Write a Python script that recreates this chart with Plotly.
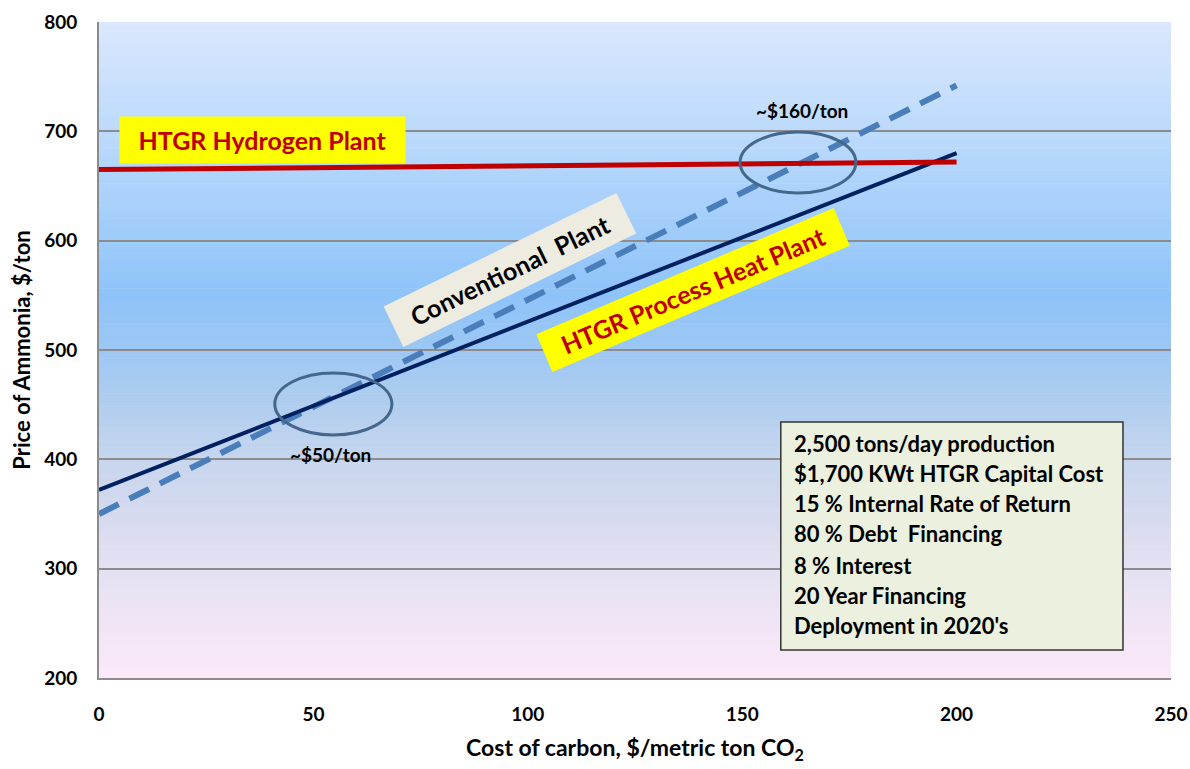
import plotly.graph_objects as go

# Cost of carbon ($/metric ton CO2) and ammonia price ($/ton) for each plant type
carbon_cost = [0, 200]
hydrogen_plant = [665, 672]
process_heat_plant = [372, 680]
conventional_plant = [350, 742]

x_ticks = [0, 50, 100, 150, 200, 250]
y_ticks = [200, 300, 400, 500, 600, 700, 800]

assumptions = [
    "2,500 tons/day production",
    "$1,700 KWt HTGR Capital Cost",
    "15 % Internal Rate of Return",
    "80 % Debt  Financing",
    "8 % Interest",
    "20 Year Financing",
    "Deployment in 2020's",
]

FONT = "Lato"

fig = go.Figure()

fig.add_trace(go.Scatter(
    x=carbon_cost, y=conventional_plant, mode="lines",
    line=dict(color="#4A7EBB", width=6, dash="22px,12px"),
    name="Conventional Plant", showlegend=False, hoverinfo="skip"))
fig.add_trace(go.Scatter(
    x=carbon_cost, y=process_heat_plant, mode="lines",
    line=dict(color="#002060", width=4),
    name="HTGR Process Heat Plant", showlegend=False, hoverinfo="skip"))
fig.add_trace(go.Scatter(
    x=carbon_cost, y=hydrogen_plant, mode="lines",
    line=dict(color="#C00000", width=5),
    name="HTGR Hydrogen Plant", showlegend=False, hoverinfo="skip"))

# vertical background gradient built from thin horizontal bands
stops = [
    (200, (251, 233, 248)),
    (250, (240, 229, 246)),
    (300, (228, 225, 242)),
    (350, (214, 218, 239)),
    (400, (198, 214, 238)),
    (450, (176, 205, 238)),
    (500, (157, 199, 244)),
    (550, (142, 195, 249)),
    (600, (158, 203, 250)),
    (700, (188, 218, 252)),
    (800, (218, 232, 252)),
]


def grad_color(v):
    for (v0, c0), (v1, c1) in zip(stops[:-1], stops[1:]):
        if v0 <= v <= v1:
            t = (v - v0) / (v1 - v0)
            return "rgb(%d,%d,%d)" % tuple(round(a + (b - a) * t) for a, b in zip(c0, c1))
    return "rgb(%d,%d,%d)" % stops[-1][1]


shapes = []
n_bands = 150
step = 600 / n_bands
for i in range(n_bands):
    lo = 200 + i * step
    shapes.append(dict(
        type="rect", xref="x", yref="y", x0=0, x1=250, y0=lo, y1=lo + step + 0.5,
        fillcolor=grad_color(lo + step / 2), line=dict(width=0), layer="below"))

# ellipses marking the break-even points
for x0, x1, y0, y1 in [(41.0, 68.3, 422.3, 479.0), (149.5, 176.5, 643.6, 699.4)]:
    shapes.append(dict(type="circle", xref="x", yref="y", x0=x0, x1=x1, y0=y0, y1=y1,
                       line=dict(color="#44678C", width=3), layer="above"))

# assumptions box
shapes.append(dict(type="rect", xref="x", yref="y", x0=159.0, x1=238.8, y0=225.6, y1=434.2,
                   fillcolor="#EBF1DE", line=dict(color="#333333", width=1.5), layer="above"))

annotations = []
line_px = [443, 473, 503, 533, 565, 595, 625]
for txt, py in zip(assumptions, line_px):
    annotations.append(dict(
        x=161.6, y=800 - (py - 22) * 600 / 656, xref="x", yref="y", text=f"<b>{txt}</b>",
        showarrow=False, xanchor="left", yanchor="middle",
        font=dict(family=FONT, size=22, color="#000000")))

annotations += [
    dict(x=38.2, y=692, xref="x", yref="y", text="<b>HTGR Hydrogen Plant</b>",
         showarrow=False, bgcolor="#FFFF00", width=279, height=40, borderpad=3,
         font=dict(family=FONT, size=25, color="#C00000")),
    dict(x=95.8, y=573, xref="x", yref="y", text="<b>Conventional  Plant</b>",
         showarrow=False, bgcolor="#EEECE1", textangle=-26, width=252, height=38, borderpad=3,
         font=dict(family=FONT, size=25, color="#000000")),
    dict(x=138.5, y=555, xref="x", yref="y", text="<b>HTGR Process Heat Plant</b>",
         showarrow=False, bgcolor="#FFFF00", textangle=-23, width=316, height=34, borderpad=3,
         font=dict(family=FONT, size=25, color="#C00000")),
    dict(x=164, y=719.5, xref="x", yref="y", text="<b>~$160/ton</b>",
         showarrow=False, font=dict(family=FONT, size=19, color="#000000")),
    dict(x=53.9, y=404, xref="x", yref="y", text="<b>~$50/ton</b>",
         showarrow=False, font=dict(family=FONT, size=19, color="#000000")),
]

fig.update_layout(
    width=1190, height=769,
    margin=dict(l=99, r=19, t=22, b=91),
    paper_bgcolor="white", plot_bgcolor="white",
    shapes=shapes, annotations=annotations,
    font=dict(family=FONT, color="#000000"),
)

fig.update_xaxes(
    range=[0, 250], tickvals=x_ticks, ticktext=[f"<b>{v}</b>" for v in x_ticks],
    tickfont=dict(family=FONT, size=19, color="#000000"),
    showgrid=False, zeroline=False, showline=True, linecolor="#8C8C8C", linewidth=2,
    ticks="", ticklabelstandoff=18, automargin=False, ticklabeloverflow="allow",
    title=dict(text="<b>Cost of carbon, $/metric ton CO<sub>2</sub></b>",
               font=dict(family=FONT, size=23, color="#000000"), standoff=16),
)
fig.update_yaxes(
    range=[200, 800], tickvals=y_ticks, ticktext=[f"<b>{v}</b>" for v in y_ticks],
    tickfont=dict(family=FONT, size=19, color="#000000"),
    showgrid=True, gridcolor="#8C8C8C", gridwidth=1.5, zeroline=False,
    showline=True, linecolor="#8C8C8C", linewidth=2, mirror=False,
    ticks="", ticklabelstandoff=16, automargin=False, ticklabeloverflow="allow",
    title=dict(text="<b>Price of Ammonia, $/ton</b>",
               font=dict(family=FONT, size=22, color="#000000"), standoff=7),
)

fig.write_html("out.html")
